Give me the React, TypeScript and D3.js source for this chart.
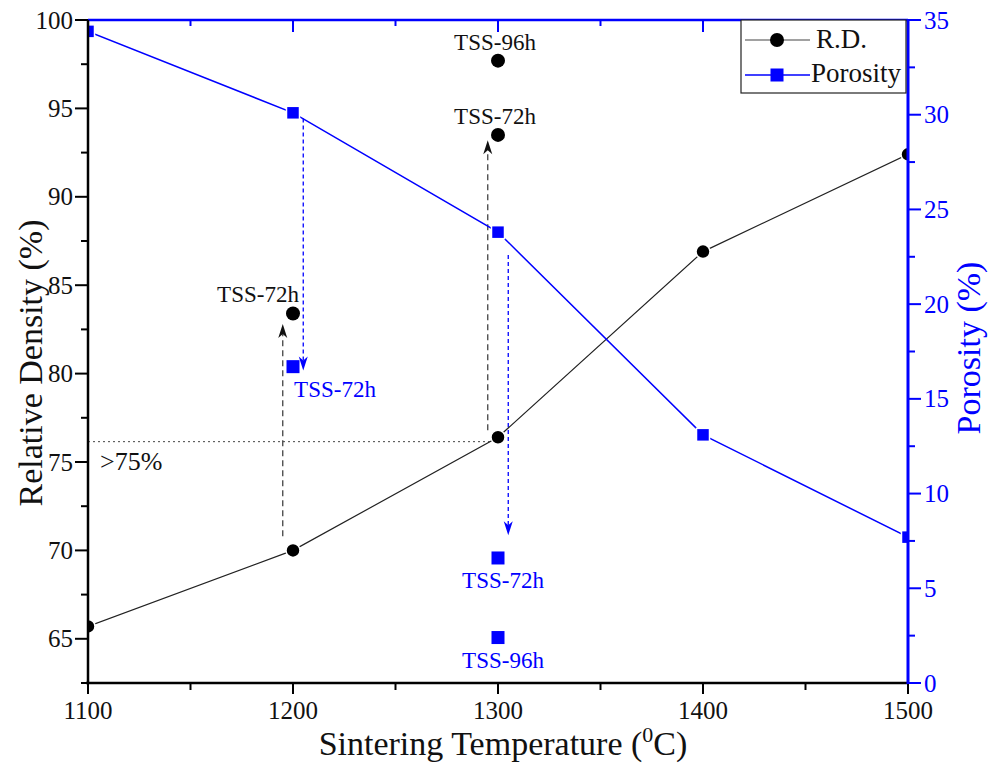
import React from "react";
import * as d3 from "d3";

const temps = [1100, 1200, 1300, 1400, 1500];
const relDensity = [65.7, 70.0, 76.4, 86.9, 92.4];
const porosity = [34.4, 30.1, 23.8, 13.1, 7.7];

const tssRdTemps = [1200, 1300, 1300];
const tssRd = [83.4, 93.5, 97.7];
const tssRdLabels = ["TSS-72h", "TSS-72h", "TSS-96h"];

const tssPorTemps = [1200, 1300, 1300];
const tssPor = [16.7, 6.6, 2.4];
const tssPorLabels = ["TSS-72h", "TSS-72h", "TSS-96h"];

// arrows: [x temp, from value, to value]
const rdArrows = [
  [1195, 70.8, 82.8],
  [1295, 76.8, 93.2],
];
const porArrows = [
  [1205, 29.8, 16.5],
  [1305, 22.6, 7.8],
];
const thresholdValue = 76.15;
const thresholdEndTemp = 1296;

const xTicks = [1100, 1200, 1300, 1400, 1500];
const xMinor = [1150, 1250, 1350, 1450];
const yLeftTicks = [65, 70, 75, 80, 85, 90, 95, 100];
const yLeftMinor = [62.5, 67.5, 72.5, 77.5, 82.5, 87.5, 92.5, 97.5];
const yRightTicks = [0, 5, 10, 15, 20, 25, 30, 35];
const yRightMinor = [2.5, 7.5, 12.5, 17.5, 22.5, 27.5, 32.5];

const L = 88, R = 908, T = 20, B = 683;
const BLUE = "#0000ff";
const FONT = "'Liberation Serif', 'Times New Roman', serif";

export default function App() {
  const x = d3.scaleLinear().domain([1100, 1500]).range([L, R]);
  const yL = d3.scaleLinear().domain([62.5, 100]).range([B, T]);
  const yR = d3.scaleLinear().domain([0, 35]).range([B, T]);

  const rdLine = d3.line<number>().x((_, i) => x(temps[i])).y((d) => yL(d))(relDensity) || "";
  const porLine = d3.line<number>().x((_, i) => x(temps[i])).y((d) => yR(d))(porosity) || "";

  const arrowHead = (px: number, py: number, dir: number, color: string) => {
    const h = 14, w = 4.5;
    return (
      <path d={`M${px},${py} L${px - w},${py - dir * h} L${px},${py - dir * (h - 4)} L${px + w},${py - dir * h} Z`} fill={color} />
    );
  };

  return (
    <svg width={989} height={765} style={{ position: "absolute", left: 0, top: 0, background: "#fff" }} fontFamily={FONT}>
      <rect x={0} y={0} width={989} height={765} fill="#fff" />
      <defs>
        <clipPath id="plot">
          <rect x={L} y={T} width={R - L} height={B - T} />
        </clipPath>
      </defs>

      {/* threshold dotted line */}
      <line x1={L} x2={x(thresholdEndTemp)} y1={yL(thresholdValue)} y2={yL(thresholdValue)} stroke="#444" strokeWidth={1} strokeDasharray="2,3" />
      <text x={100} y={470} fontSize={26} fill="#111">&gt;75%</text>

      {/* arrows */}
      {rdArrows.map((a, i) => (
        <g key={"ra" + i}>
          <line x1={x(a[0])} x2={x(a[0])} y1={yL(a[1])} y2={yL(a[2]) + 10} stroke="#444" strokeWidth={1.3} strokeDasharray="6,4" />
          {arrowHead(x(a[0]), yL(a[2]), -1, "#111")}
        </g>
      ))}
      {porArrows.map((a, i) => (
        <g key={"pa" + i}>
          <line x1={x(a[0])} x2={x(a[0])} y1={yR(a[1])} y2={yR(a[2]) - 10} stroke={BLUE} strokeWidth={1.3} strokeDasharray="4,3" />
          {arrowHead(x(a[0]), yR(a[2]), 1, BLUE)}
        </g>
      ))}

      <g clipPath="url(#plot)">
        <path d={rdLine} fill="none" stroke="#222" strokeWidth={1.2} />
        <path d={porLine} fill="none" stroke={BLUE} strokeWidth={1.5} />
        {relDensity.map((v, i) => (
          <circle key={"c" + i} cx={x(temps[i])} cy={yL(v)} r={7} fill="#000" stroke="#fff" strokeWidth={1.5} />
        ))}
        {porosity.map((v, i) => (
          <rect key={"s" + i} x={x(temps[i]) - 6.5} y={yR(v) - 6.5} width={13} height={13} fill={BLUE} stroke="#fff" strokeWidth={1.5} />
        ))}
        {tssRd.map((v, i) => (
          <circle key={"tc" + i} cx={x(tssRdTemps[i])} cy={yL(v)} r={7} fill="#000" />
        ))}
        {tssPor.map((v, i) => (
          <rect key={"ts" + i} x={x(tssPorTemps[i]) - 6.5} y={yR(v) - 6.5} width={13} height={13} fill={BLUE} />
        ))}
      </g>

      {/* TSS labels */}
      {tssRd.map((v, i) => (
        <text key={"tl" + i} x={x(tssRdTemps[i]) + (i === 0 ? -35 : -3)} y={yL(v) - 11} fontSize={23} textAnchor="middle" fill="#111">
          {tssRdLabels[i]}
        </text>
      ))}
      {tssPor.map((v, i) => (
        <text key={"pl" + i} x={x(tssPorTemps[i]) + (i === 0 ? 42 : 5)} y={yR(v) + 30} fontSize={23} textAnchor="middle" fill={BLUE}>
          {tssPorLabels[i]}
        </text>
      ))}

      {/* axes */}
      <line x1={L} x2={R} y1={T} y2={T} stroke={BLUE} strokeWidth={2.5} />
      {xTicks.map((t) => (
        <line key={"tt" + t} x1={x(t)} x2={x(t)} y1={T} y2={T + 12} stroke={BLUE} strokeWidth={2} />
      ))}
      {xMinor.map((t) => (
        <line key={"tm" + t} x1={x(t)} x2={x(t)} y1={T} y2={T + 6} stroke={BLUE} strokeWidth={2} />
      ))}

      <line x1={L} x2={L} y1={T} y2={B} stroke="#000" strokeWidth={2.5} />
      {yLeftTicks.map((t) => (
        <g key={"yl" + t}>
          <line x1={L - 13} x2={L} y1={yL(t)} y2={yL(t)} stroke="#000" strokeWidth={2} />
          <text x={L - 15} y={yL(t) + 8.5} fontSize={25} textAnchor="end" fill="#111">{t}</text>
        </g>
      ))}
      {yLeftMinor.map((t) => (
        <line key={"ylm" + t} x1={L - 7} x2={L} y1={yL(t)} y2={yL(t)} stroke="#000" strokeWidth={2} />
      ))}

      <line x1={L - 2} x2={R} y1={B} y2={B} stroke="#000" strokeWidth={2.5} />
      {xTicks.map((t) => (
        <g key={"xb" + t}>
          <line x1={x(t)} x2={x(t)} y1={B} y2={B + 11} stroke="#000" strokeWidth={2} />
          <text x={x(t)} y={719} fontSize={25} textAnchor="middle" fill="#111">{t}</text>
        </g>
      ))}
      {xMinor.map((t) => (
        <line key={"xbm" + t} x1={x(t)} x2={x(t)} y1={B} y2={B + 7} stroke="#000" strokeWidth={2} />
      ))}

      <line x1={R} x2={R} y1={T - 1} y2={B + 1} stroke={BLUE} strokeWidth={3} />
      {yRightTicks.map((t) => (
        <g key={"yr" + t}>
          <line x1={R} x2={R + 13} y1={yR(t)} y2={yR(t)} stroke={BLUE} strokeWidth={2} />
          <text x={R + 16} y={yR(t) + 8.5} fontSize={25} textAnchor="start" fill={BLUE}>{t}</text>
        </g>
      ))}
      {yRightMinor.map((t) => (
        <line key={"yrm" + t} x1={R} x2={R + 7} y1={yR(t)} y2={yR(t)} stroke={BLUE} strokeWidth={2} />
      ))}

      {/* axis titles */}
      <text x={503} y={755} fontSize={34} textAnchor="middle" fill="#111">
        Sintering Temperature (<tspan fontSize={22} dy={-13}>0</tspan><tspan dy={13}>C)</tspan>
      </text>
      <text transform={`translate(42,363) rotate(-90)`} fontSize={34} textAnchor="middle" fill="#111">
        Relative Density (%)
      </text>
      <text transform={`translate(980,348) rotate(-90)`} fontSize={34} textAnchor="middle" fill={BLUE}>
        Porosity (%)
      </text>

      {/* legend */}
      <rect x={741} y={T} width={165} height={73} fill="#fff" stroke="#222" strokeWidth={1.2} />
      <line x1={745} x2={810} y1={40} y2={40} stroke="#444" strokeWidth={1.2} />
      <circle cx={777} cy={40} r={7} fill="#000" />
      <text x={816} y={48} fontSize={27} fill="#111">R.D.</text>
      <line x1={745} x2={810} y1={75} y2={75} stroke={BLUE} strokeWidth={1.5} />
      <rect x={777 - 6.5} y={75 - 6.5} width={13} height={13} fill={BLUE} />
      <text x={811} y={82} fontSize={27} fill="#111">Porosity</text>
    </svg>
  );
}
